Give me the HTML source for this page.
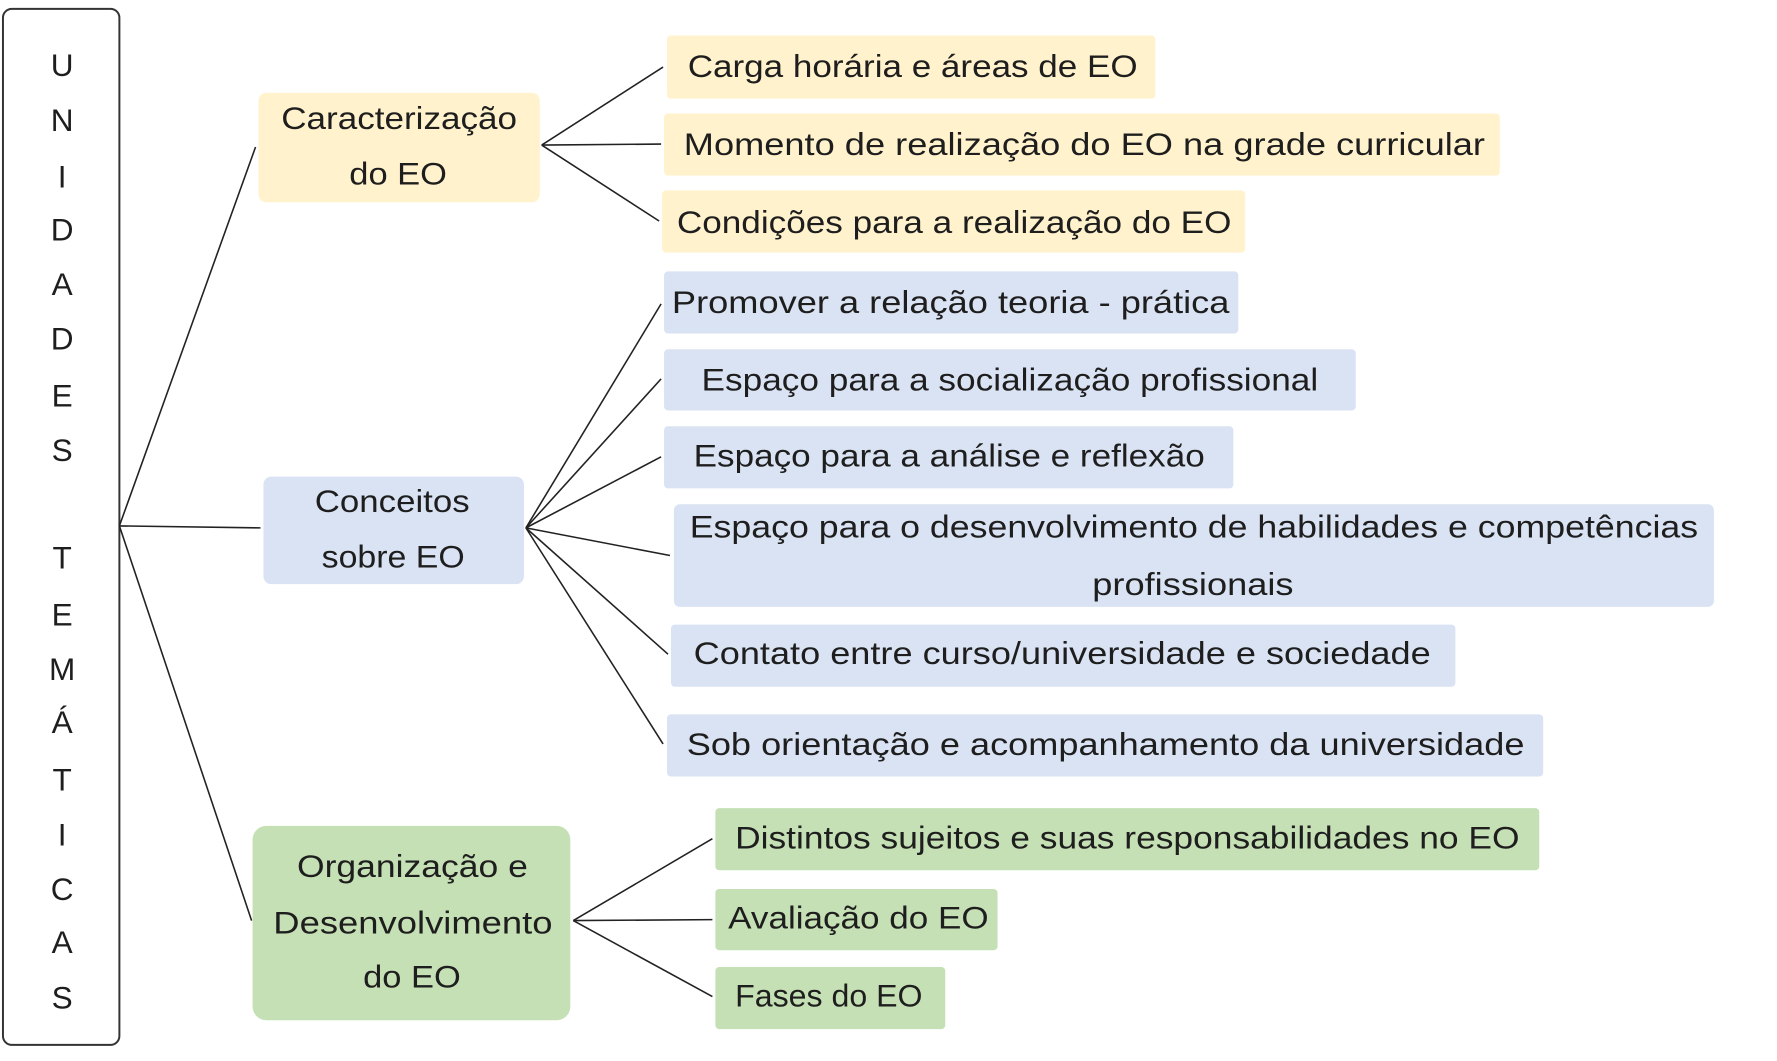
<!DOCTYPE html>
<html><head><meta charset="utf-8"><style>
html,body{margin:0;padding:0;background:#fff;width:1777px;height:1061px;overflow:hidden}
svg{display:block}
text{font-family:"Liberation Sans",sans-serif;font-size:32px;fill:#1e1e1e}
</style></head><body>
<svg width="1777" height="1061" viewBox="0 0 1777 1061">
<g transform="scale(0.9867)">
<rect x="3" y="9" width="118" height="1050" rx="9" fill="#fff" stroke="#333" stroke-width="2"/>
<g text-anchor="middle" font-size="32">
<text x="63" y="77">U</text><text x="63" y="133">N</text><text x="63" y="190">I</text><text x="63" y="244">D</text><text x="63" y="299">A</text><text x="63" y="354">D</text><text x="63" y="412">E</text><text x="63" y="467">S</text>
<text x="63" y="576">T</text><text x="63" y="634">E</text><text x="63" y="689">M</text><text x="63" y="743">Á</text><text x="63" y="801">T</text><text x="63" y="857">I</text><text x="63" y="912">C</text><text x="63" y="966">A</text><text x="63" y="1022">S</text>
</g>
<g stroke="#222" stroke-width="1.6" fill="none">
<line x1="121" y1="533" x2="259" y2="149"/><line x1="121" y1="533" x2="264" y2="535"/><line x1="121" y1="533" x2="255" y2="933"/>
<line x1="549" y1="147" x2="672" y2="68"/><line x1="549" y1="147" x2="670" y2="146"/><line x1="549" y1="147" x2="668" y2="224"/>
<line x1="533" y1="535" x2="670" y2="308"/><line x1="533" y1="535" x2="670" y2="384"/><line x1="533" y1="535" x2="670" y2="463"/><line x1="533" y1="535" x2="679" y2="563"/><line x1="533" y1="535" x2="677" y2="663"/><line x1="533" y1="535" x2="672" y2="754"/>
<line x1="581" y1="933" x2="722" y2="850"/><line x1="581" y1="933" x2="722" y2="932"/><line x1="581" y1="933" x2="722" y2="1010"/>
</g>
<g>
<rect x="262" y="94" width="285" height="111" rx="8" fill="#fff2cc"/>
<rect x="267" y="483" width="264" height="109" rx="8" fill="#dae3f3"/>
<rect x="256" y="837" width="322" height="197" rx="14" fill="#c5e0b4"/>
<rect x="676" y="36" width="495" height="64" rx="4" fill="#fff2cc"/>
<rect x="673" y="115" width="847" height="63" rx="4" fill="#fff2cc"/>
<rect x="671" y="193" width="591" height="63" rx="4" fill="#fff2cc"/>
<rect x="673" y="275" width="582" height="63" rx="4" fill="#dae3f3"/>
<rect x="673" y="354" width="701" height="62" rx="4" fill="#dae3f3"/>
<rect x="673" y="432" width="577" height="63" rx="4" fill="#dae3f3"/>
<rect x="683" y="511" width="1054" height="104" rx="6" fill="#dae3f3"/>
<rect x="680" y="633" width="795" height="63" rx="4" fill="#dae3f3"/>
<rect x="676" y="724" width="888" height="63" rx="4" fill="#dae3f3"/>
<rect x="725" y="819" width="835" height="63" rx="4" fill="#c5e0b4"/>
<rect x="725" y="901" width="286" height="62" rx="4" fill="#c5e0b4"/>
<rect x="725" y="980" width="233" height="63" rx="4" fill="#c5e0b4"/>
</g>
<g>
<text x="285" y="131" textLength="239" lengthAdjust="spacingAndGlyphs">Caracterização</text>
<text x="354" y="187" textLength="99" lengthAdjust="spacingAndGlyphs">do EO</text>
<text x="319" y="519" textLength="157" lengthAdjust="spacingAndGlyphs">Conceitos</text>
<text x="326" y="575" textLength="145" lengthAdjust="spacingAndGlyphs">sobre EO</text>
<text x="301" y="889" textLength="234" lengthAdjust="spacingAndGlyphs">Organização e</text>
<text x="277" y="946" textLength="283" lengthAdjust="spacingAndGlyphs">Desenvolvimento</text>
<text x="368" y="1001" textLength="99" lengthAdjust="spacingAndGlyphs">do EO</text>
<text x="697" y="78" textLength="456" lengthAdjust="spacingAndGlyphs">Carga horária e áreas de EO</text>
<text x="693" y="157" textLength="812" lengthAdjust="spacingAndGlyphs">Momento de realização do EO na grade curricular</text>
<text x="686" y="236" textLength="562" lengthAdjust="spacingAndGlyphs">Condições para a realização do EO</text>
<text x="681" y="317" textLength="565" lengthAdjust="spacingAndGlyphs">Promover a relação teoria - prática</text>
<text x="711" y="396" textLength="625" lengthAdjust="spacingAndGlyphs">Espaço para a socialização profissional</text>
<text x="703" y="473" textLength="518" lengthAdjust="spacingAndGlyphs">Espaço para a análise e reflexão</text>
<text x="699" y="545" textLength="1022" lengthAdjust="spacingAndGlyphs">Espaço para o desenvolvimento de habilidades e competências</text>
<text x="1107" y="603" textLength="204" lengthAdjust="spacingAndGlyphs">profissionais</text>
<text x="703" y="673" textLength="747" lengthAdjust="spacingAndGlyphs">Contato entre curso/universidade e sociedade</text>
<text x="696" y="765" textLength="849" lengthAdjust="spacingAndGlyphs">Sob orientação e acompanhamento da universidade</text>
<text x="745" y="860" textLength="795" lengthAdjust="spacingAndGlyphs">Distintos sujeitos e suas responsabilidades no EO</text>
<text x="738" y="941" textLength="264" lengthAdjust="spacingAndGlyphs">Avaliação do EO</text>
<text x="745" y="1020" textLength="190" lengthAdjust="spacingAndGlyphs">Fases do EO</text>
</g>
</g>
</svg>
</body></html>
